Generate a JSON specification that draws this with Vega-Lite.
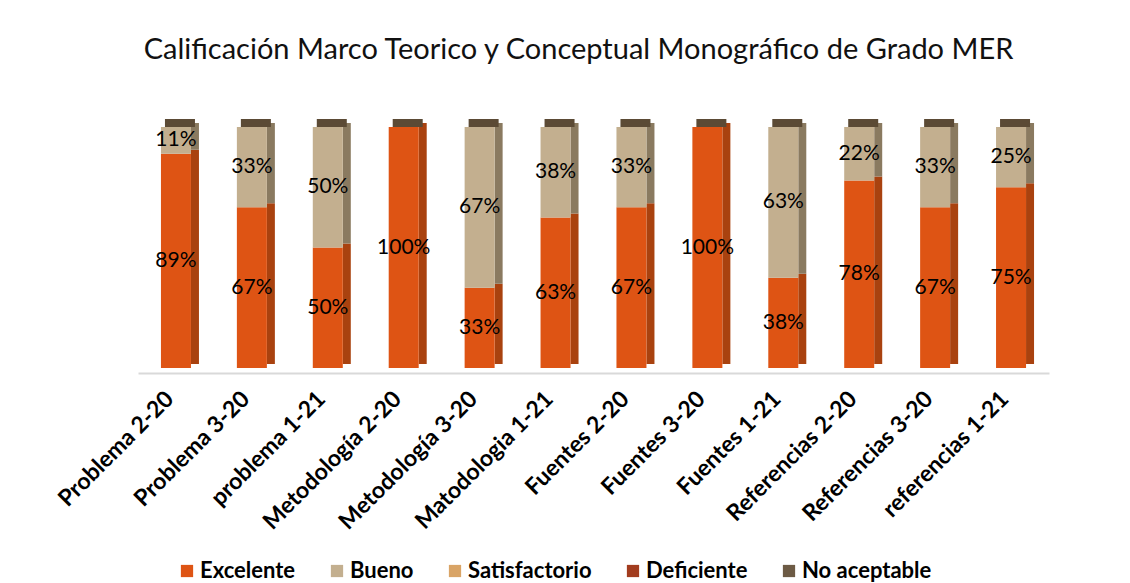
{
  "$schema": "https://vega.github.io/schema/vega-lite/v6.json",
  "autosize": {"type": "none"},
  "padding": {"left": 138, "top": 127, "right": 81, "bottom": 215},
  "width": 911,
  "height": 241,
  "background": "white",
  "config": {
    "font": "Lato",
    "view": {"stroke": null}
  },
  "title": {
    "text": "Calificación Marco Teorico y Conceptual  Monográfico de Grado MER",
    "fontSize": 29,
    "fontWeight": "normal",
    "color": "#111111",
    "anchor": "middle",
    "dx": -15,
    "offset": 54
  },
  "data": {
    "values": [
      {"cat": "Problema 2-20", "serie": "Excelente", "value": 0.889},
      {"cat": "Problema 2-20", "serie": "Bueno", "value": 0.111},
      {"cat": "Problema 3-20", "serie": "Excelente", "value": 0.667},
      {"cat": "Problema 3-20", "serie": "Bueno", "value": 0.333},
      {"cat": "problema 1-21", "serie": "Excelente", "value": 0.5},
      {"cat": "problema 1-21", "serie": "Bueno", "value": 0.5},
      {"cat": "Metodología 2-20", "serie": "Excelente", "value": 1.0},
      {"cat": "Metodología 2-20", "serie": "Bueno", "value": 0},
      {"cat": "Metodología 3-20", "serie": "Excelente", "value": 0.333},
      {"cat": "Metodología 3-20", "serie": "Bueno", "value": 0.667},
      {"cat": "Matodologia 1-21", "serie": "Excelente", "value": 0.625},
      {"cat": "Matodologia 1-21", "serie": "Bueno", "value": 0.375},
      {"cat": "Fuentes 2-20", "serie": "Excelente", "value": 0.667},
      {"cat": "Fuentes 2-20", "serie": "Bueno", "value": 0.333},
      {"cat": "Fuentes 3-20", "serie": "Excelente", "value": 1.0},
      {"cat": "Fuentes 3-20", "serie": "Bueno", "value": 0},
      {"cat": "Fuentes 1-21", "serie": "Excelente", "value": 0.375},
      {"cat": "Fuentes 1-21", "serie": "Bueno", "value": 0.625},
      {"cat": "Referencias 2-20", "serie": "Excelente", "value": 0.778},
      {"cat": "Referencias 2-20", "serie": "Bueno", "value": 0.222},
      {"cat": "Referencias 3-20", "serie": "Excelente", "value": 0.667},
      {"cat": "Referencias 3-20", "serie": "Bueno", "value": 0.333},
      {"cat": "referencias 1-21", "serie": "Excelente", "value": 0.75},
      {"cat": "referencias 1-21", "serie": "Bueno", "value": 0.25}
    ]
  },
  "transform": [
    {"stack": "value", "groupby": ["cat"], "sort": [{"field": "serie", "order": "descending"}], "as": ["y0", "y1"]},
    {"calculate": "(datum.y0 + datum.y1) / 2", "as": "ym"}
  ],
  "layer": [
    {
      "mark": {"type": "bar", "width": 8, "xOffset": 19, "yOffset": -4, "y2Offset": -4},
      "encoding": {
        "x": {"field": "cat", "type": "nominal", "sort": null},
        "y": {"field": "y0", "type": "quantitative", "scale": {"domain": [0, 1]}, "axis": null},
        "y2": {"field": "y1"},
        "color": {
          "field": "serie",
          "type": "nominal",
          "scale": {"domain": ["Excelente", "Bueno"], "range": ["#A9420F", "#8A7A60"]},
          "legend": null
        }
      }
    },
    {
      "mark": {"type": "tick", "thickness": 8, "size": 30, "xOffset": 4, "yOffset": -4, "color": "#5B4A35", "opacity": 1},
      "encoding": {
        "x": {"field": "cat", "type": "nominal", "sort": null},
        "y": {"field": "y1", "type": "quantitative", "aggregate": "max"}
      }
    },
    {
      "mark": {"type": "bar", "width": 30},
      "encoding": {
        "x": {
          "field": "cat",
          "type": "nominal",
          "sort": null,
          "scale": {"paddingInner": 0, "paddingOuter": 0},
          "axis": {
            "title": null,
            "labelAngle": -45,
            "labelFontSize": 23,
            "labelFontWeight": "bold",
            "labelColor": "#000000",
            "labelPadding": 22,
            "labelOffset": -6,
            "ticks": false,
            "domainColor": "#D9D9D9",
            "domainWidth": 2,
            "offset": 5,
            "labelLimit": 300
          }
        },
        "y": {"field": "y0", "type": "quantitative"},
        "y2": {"field": "y1"},
        "color": {
          "field": "serie",
          "type": "nominal",
          "scale": {
            "domain": ["Excelente", "Bueno", "Satisfactorio", "Deficiente", "No aceptable"],
            "range": ["#DE5414", "#C3AF8F", "#D9A466", "#A23C1E", "#6D5B45"]
          },
          "legend": {
            "title": null,
            "orient": "none",
            "direction": "horizontal",
            "legendX": 38,
            "legendY": 433,
            "symbolType": "square",
            "symbolSize": 150,
            "symbolStrokeWidth": 0,
            "symbolOpacity": 1,
            "labelFontSize": 22,
            "labelFontWeight": "bold",
            "labelColor": "#000000",
            "labelOffset": 2,
            "columnPadding": 30,
            "labelLimit": 300
          }
        }
      }
    },
    {
      "transform": [{"filter": "datum.value > 0"}],
      "mark": {"type": "text", "fontSize": 21, "color": "#000000", "baseline": "middle", "align": "center"},
      "encoding": {
        "x": {"field": "cat", "type": "nominal", "sort": null},
        "y": {"field": "ym", "type": "quantitative"},
        "text": {"field": "value", "type": "quantitative", "format": ".0%"}
      }
    }
  ],
  "resolve": {"scale": {"color": "independent"}}
}
